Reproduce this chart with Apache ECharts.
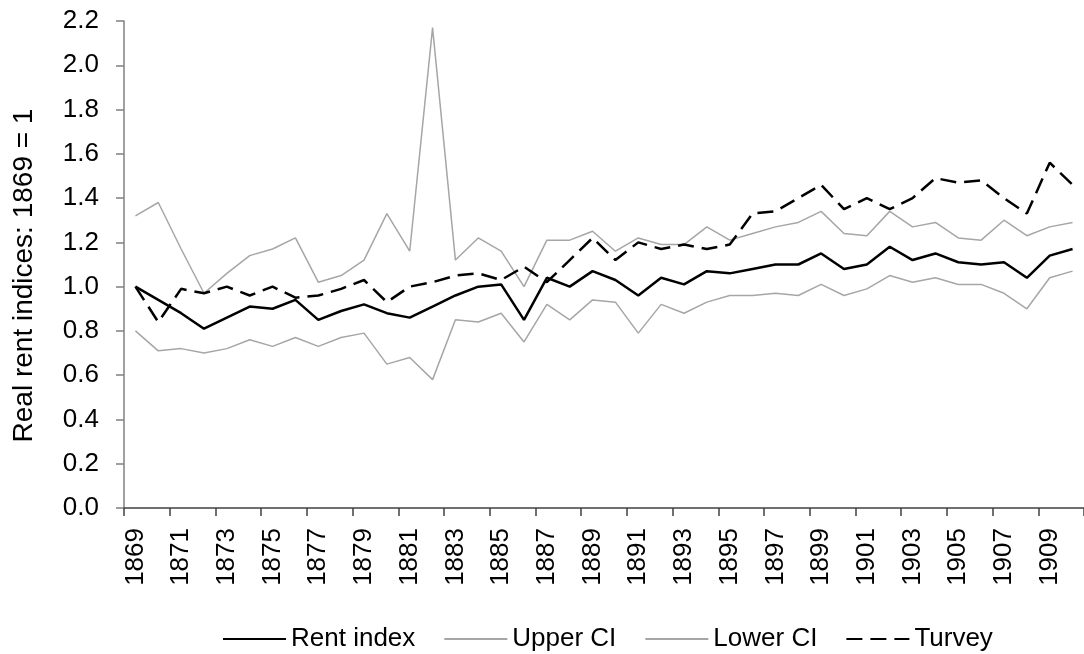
<!DOCTYPE html>
<html>
<head>
<meta charset="utf-8">
<script src="https://cdn.jsdelivr.net/npm/echarts@6/dist/echarts.min.js"></script>
<style>html,body{margin:0;padding:0;background:#fff}#c{width:1084px;height:654px}</style>
</head>
<body>
<div id="c"></div>
<script>
const years = ['1869','1870','1871','1872','1873','1874','1875','1876','1877','1878','1879','1880','1881','1882','1883','1884','1885','1886','1887','1888','1889','1890','1891','1892','1893','1894','1895','1896','1897','1898','1899','1900','1901','1902','1903','1904','1905','1906','1907','1908','1909','1910'];
const rentIndex = [1.00,0.94,0.88,0.81,0.86,0.91,0.90,0.94,0.85,0.89,0.92,0.88,0.86,0.91,0.96,1.00,1.01,0.85,1.04,1.00,1.07,1.03,0.96,1.04,1.01,1.07,1.06,1.08,1.10,1.10,1.15,1.08,1.10,1.18,1.12,1.15,1.11,1.10,1.11,1.04,1.14,1.17];
const upperCI = [1.32,1.38,1.17,0.97,1.06,1.14,1.17,1.22,1.02,1.05,1.12,1.33,1.16,2.17,1.12,1.22,1.16,1.00,1.21,1.21,1.25,1.16,1.22,1.19,1.19,1.27,1.21,1.24,1.27,1.29,1.34,1.24,1.23,1.34,1.27,1.29,1.22,1.21,1.30,1.23,1.27,1.29];
const lowerCI = [0.80,0.71,0.72,0.70,0.72,0.76,0.73,0.77,0.73,0.77,0.79,0.65,0.68,0.58,0.85,0.84,0.88,0.75,0.92,0.85,0.94,0.93,0.79,0.92,0.88,0.93,0.96,0.96,0.97,0.96,1.01,0.96,0.99,1.05,1.02,1.04,1.01,1.01,0.97,0.90,1.04,1.07];
const turvey = [1.00,0.84,0.99,0.97,1.00,0.96,1.00,0.95,0.96,0.99,1.03,0.93,1.00,1.02,1.05,1.06,1.03,1.09,1.02,1.12,1.22,1.12,1.20,1.17,1.19,1.17,1.19,1.33,1.34,1.40,1.46,1.35,1.40,1.35,1.40,1.49,1.47,1.48,1.40,1.33,1.56,1.46];
const yTicks = {min: 0, max: 2.2, step: 0.2};

const FONT = 'Liberation Sans, Arial, sans-serif';
const chart = echarts.init(document.getElementById('c'), null, {renderer: 'canvas'});
chart.setOption({
  animation: false,
  backgroundColor: '#ffffff',
  grid: {left: 124, top: 21, width: 963, height: 487, containLabel: false},
  legend: {
    show: true,
    orient: 'horizontal',
    left: 217, top: 621,
    itemWidth: 63, itemHeight: 14, itemGap: 28,
    itemStyle: {opacity: 0},
    textStyle: {fontFamily: FONT, fontSize: 26, color: '#000'},
    data: ['Rent index', 'Upper CI', 'Lower CI', 'Turvey']
  },
  xAxis: {
    type: 'category',
    data: years,
    boundaryGap: true,
    axisLine: {lineStyle: {color: '#404040', width: 1.5}},
    axisTick: {show: true, interval: 1, length: 8, lineStyle: {color: '#404040', width: 1.5}},
    axisLabel: {interval: 1, rotate: 90, margin: 20, fontFamily: FONT, fontSize: 26, color: '#000'},
    splitLine: {show: false}
  },
  yAxis: {
    type: 'value',
    min: yTicks.min, max: yTicks.max, interval: yTicks.step,
    name: 'Real rent indices: 1869 = 1',
    nameLocation: 'middle', nameRotate: 90, nameGap: 86,
    nameTextStyle: {fontFamily: FONT, fontSize: 28, color: '#000', padding: [0, 22, 0, 0]},
    axisLine: {show: true, lineStyle: {color: '#808080', width: 1.5}},
    axisTick: {show: true, length: 8, lineStyle: {color: '#808080', width: 1.5}},
    axisLabel: {margin: 25, fontFamily: FONT, fontSize: 26, color: '#000', formatter: v => v.toFixed(1)},
    splitLine: {show: false}
  },
  series: [
    {name: 'Rent index', type: 'line', data: rentIndex, symbol: 'none', z: 4,
     lineStyle: {color: '#000000', width: 2.5}, itemStyle: {color: '#000000'}},
    {name: 'Upper CI', type: 'line', data: upperCI, symbol: 'none', z: 2,
     lineStyle: {color: '#a6a6a6', width: 1.5}, itemStyle: {color: '#a6a6a6'}},
    {name: 'Lower CI', type: 'line', data: lowerCI, symbol: 'none', z: 2,
     lineStyle: {color: '#a6a6a6', width: 1.5}, itemStyle: {color: '#a6a6a6'}},
    {name: 'Turvey', type: 'line', data: turvey, symbol: 'none', z: 3,
     lineStyle: {color: '#000000', width: 2.5, type: [16, 8]}, itemStyle: {color: '#000000'}}
  ]
});
</script>
</body>
</html>
